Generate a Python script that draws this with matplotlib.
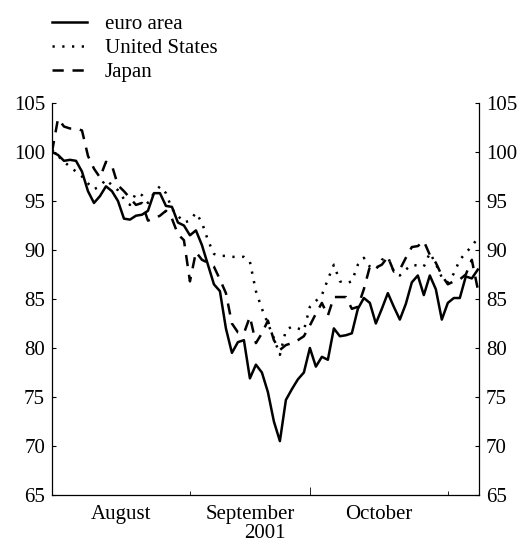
import matplotlib
matplotlib.use('Agg')
import matplotlib.pyplot as plt

# business-day index since 1 August 2001
euro_area = [100.0, 99.7, 99.1, 99.2, 99.1, 98.0, 96.0, 94.8, 95.5, 96.5,
             96.0, 95.0, 93.2, 93.1, 93.5, 93.6, 94.0, 95.8, 95.8, 94.5,
             94.4, 92.8, 92.5, 91.5, 92.0, 90.5, 88.5, 86.5, 85.8, 82.0,
             79.5, 80.6, 80.8, 76.9, 78.3, 77.5, 75.5, 72.5, 70.5, 74.7,
             75.8, 76.8, 77.5, 80.0, 78.1, 79.1, 78.8, 82.0, 81.2, 81.3,
             81.5, 84.0, 85.1, 84.6, 82.5, 84.0, 85.6, 84.2, 82.9, 84.5,
             86.7, 87.4, 85.4, 87.4, 86.0, 82.9, 84.6, 85.1, 85.1, 87.3,
             87.1, 88.0]
united_states = [100.2, 99.6, 99.0, 98.5, 98.0, 97.5, 96.8, 96.2, 96.5, 97.2,
                 96.6, 96.1, 95.2, 94.6, 95.8, 95.6, 94.8, 95.8, 96.5, 95.8,
                 94.2, 93.5, 92.8, 93.0, 93.8, 92.8, 91.0, 89.6, 89.4, 89.4,
                 89.3, 89.3, 89.3, 88.8, 85.8, 84.0, 82.5, 81.0, 79.3, 81.8,
                 82.2, 82.0, 81.8, 84.2, 84.8, 85.4, 87.0, 88.5, 86.8, 86.6,
                 86.8, 88.5, 89.2, 88.3, 88.0, 89.0, 89.3, 87.8, 87.4, 88.0,
                 88.5, 88.4, 88.3, 89.7, 88.6, 87.2, 86.7, 87.6, 89.0, 89.7,
                 90.4, 91.2]
japan = [100.0, 103.4, 102.6, 102.4, 102.4, 102.2, 99.6, 98.3, 97.4, 99.0,
         98.6, 96.6, 96.0, 95.3, 94.6, 94.8, 93.0, 93.2, 93.5, 94.0,
         93.2, 91.6, 91.0, 86.8, 89.8, 89.0, 88.7, 88.3, 87.0, 85.6,
         82.5, 81.6, 81.5, 83.2, 80.5, 81.5, 82.8, 80.8, 79.8, 80.3,
         80.5, 80.8, 81.2, 82.3, 83.5, 84.6, 83.3, 85.2, 85.2, 85.2,
         84.0, 84.2, 86.0, 88.3, 88.2, 88.5, 89.3, 87.8, 88.0, 89.2,
         90.3, 90.4, 90.9, 89.5, 88.7, 87.4, 86.5, 86.8, 87.0, 87.5,
         89.0, 86.0]
days = list(range(len(euro_area)))

month_names = ['August', 'September', 'October']
month_centres = [11.5, 33, 54.5]
month_starts = [23, 43, 66]
yticks = [65, 70, 75, 80, 85, 90, 95, 100, 105]

plt.rcParams['font.family'] = ['Liberation Serif', 'DejaVu Serif']
plt.rcParams['font.size'] = 15

fig = plt.figure(figsize=(5.25, 5.44), dpi=100)
ax = fig.add_axes([52 / 525, 49 / 544, 427 / 525, 392 / 544])

l1, = ax.plot(days, euro_area, color='black', lw=1.8, label='euro area')
l2, = ax.plot(days, united_states, color='black', lw=1.8,
              dashes=(0.9, 3.0), label='United States')
l3, = ax.plot(days, japan, color='black', lw=1.8,
              dashes=(4.5, 3.5), label='Japan')

ax.set_xlim(0, 71.2)
ax.set_ylim(65, 105)
ax.set_yticks(yticks)
ax.tick_params(axis='y', direction='in', left=True, right=True,
               labelleft=True, labelright=True, length=3, pad=5)

ax.set_xticks(month_centres, month_names)
ax.tick_params(axis='x', which='major', length=0, pad=7.5)
ax.set_xticks(month_starts, minor=True)
ax.tick_params(axis='x', which='minor', direction='in', length=3)
ax.xaxis.get_minor_ticks()[1].tick1line.set_markersize(6)

ax.spines['top'].set_visible(False)
for s in ['left', 'right', 'bottom']:
    ax.spines[s].set_linewidth(0.9)

fig.text(265 / 525, 1 - 534 / 544, '2001', ha='center', va='center')

fig.legend(handles=[l1, l2, l3], loc='upper left',
           bbox_to_anchor=(39 / 525, 1 - 2 / 544), frameon=False,
           handlelength=1.7, handletextpad=0.85, labelspacing=0.22,
           borderaxespad=0.2)

fig.savefig('out.png', dpi=100)
